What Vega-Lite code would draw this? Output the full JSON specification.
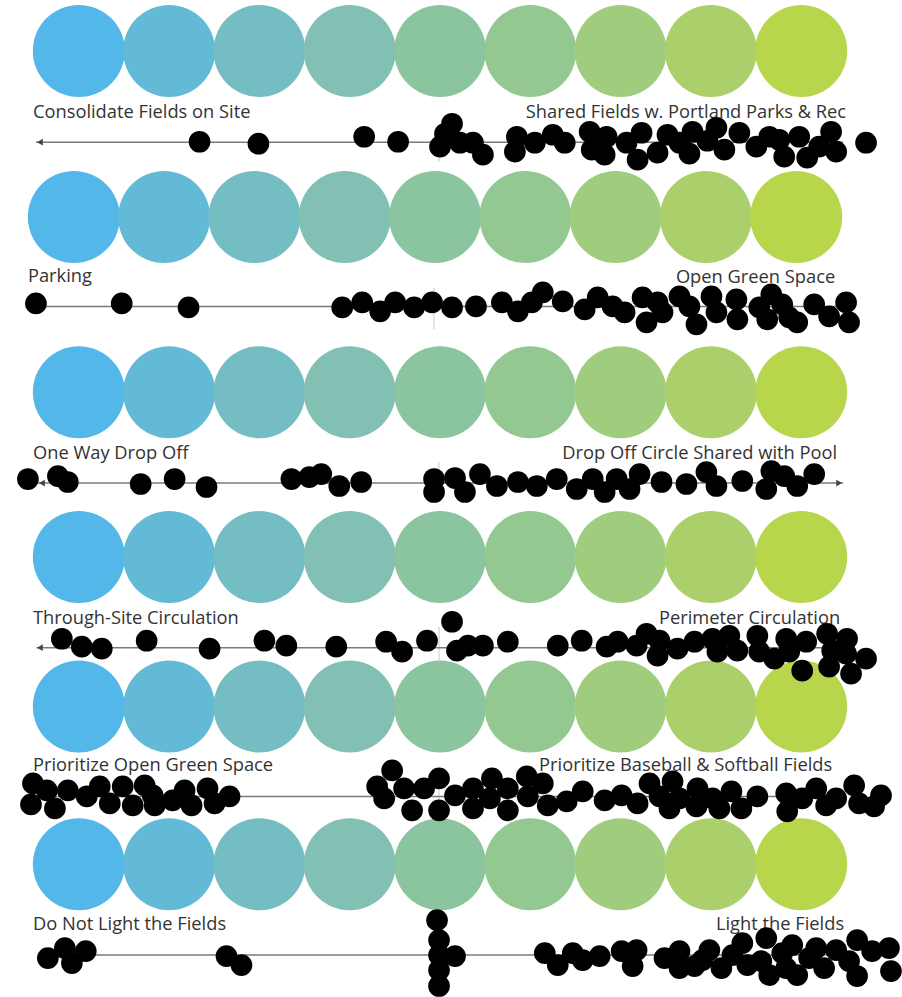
{
"$schema": "https://vega.github.io/schema/vega-lite/v6.json",
"width": 902, "height": 997,
"autosize": {"type": "fit", "contains": "padding"},
"padding": 0,
"background": "white",
"config": {"view": {"stroke": null}},
"datasets": {
"circles": [
{"q":1,"step":1,"x":1,"y":51},{"q":1,"step":2,"x":2,"y":51},{"q":1,"step":3,"x":3,"y":51},{"q":1,"step":4,"x":4,"y":51},{"q":1,"step":5,"x":5,"y":51},{"q":1,"step":6,"x":6,"y":51},{"q":1,"step":7,"x":7,"y":51},{"q":1,"step":8,"x":8,"y":51},{"q":1,"step":9,"x":9,"y":51},
{"q":2,"step":1,"x":0.945,"y":217.5},{"q":2,"step":2,"x":1.945,"y":217.5},{"q":2,"step":3,"x":2.945,"y":217.5},{"q":2,"step":4,"x":3.945,"y":217.5},{"q":2,"step":5,"x":4.945,"y":217.5},{"q":2,"step":6,"x":5.945,"y":217.5},{"q":2,"step":7,"x":6.945,"y":217.5},{"q":2,"step":8,"x":7.945,"y":217.5},{"q":2,"step":9,"x":8.945,"y":217.5},
{"q":3,"step":1,"x":1,"y":393},{"q":3,"step":2,"x":2,"y":393},{"q":3,"step":3,"x":3,"y":393},{"q":3,"step":4,"x":4,"y":393},{"q":3,"step":5,"x":5,"y":393},{"q":3,"step":6,"x":6,"y":393},{"q":3,"step":7,"x":7,"y":393},{"q":3,"step":8,"x":8,"y":393},{"q":3,"step":9,"x":9,"y":393},
{"q":4,"step":1,"x":1,"y":558},{"q":4,"step":2,"x":2,"y":558},{"q":4,"step":3,"x":3,"y":558},{"q":4,"step":4,"x":4,"y":558},{"q":4,"step":5,"x":5,"y":558},{"q":4,"step":6,"x":6,"y":558},{"q":4,"step":7,"x":7,"y":558},{"q":4,"step":8,"x":8,"y":558},{"q":4,"step":9,"x":9,"y":558},
{"q":5,"step":1,"x":1,"y":708},{"q":5,"step":2,"x":2,"y":708},{"q":5,"step":3,"x":3,"y":708},{"q":5,"step":4,"x":4,"y":708},{"q":5,"step":5,"x":5,"y":708},{"q":5,"step":6,"x":6,"y":708},{"q":5,"step":7,"x":7,"y":708},{"q":5,"step":8,"x":8,"y":708},{"q":5,"step":9,"x":9,"y":708},
{"q":6,"step":1,"x":1,"y":866},{"q":6,"step":2,"x":2,"y":866},{"q":6,"step":3,"x":3,"y":866},{"q":6,"step":4,"x":4,"y":866},{"q":6,"step":5,"x":5,"y":866},{"q":6,"step":6,"x":6,"y":866},{"q":6,"step":7,"x":7,"y":866},{"q":6,"step":8,"x":8,"y":866},{"q":6,"step":9,"x":9,"y":866}
],
"labels": [
{"q":1,"side":"left","text":"Consolidate Fields on Site","x":0.492,"y":118},
{"q":1,"side":"right","text":"Shared Fields w. Portland Parks & Rec","x":9.497,"y":118},
{"q":2,"side":"left","text":"Parking","x":0.436,"y":283},
{"q":2,"side":"right","text":"Open Green Space","x":9.376,"y":284},
{"q":3,"side":"left","text":"One Way Drop Off","x":0.492,"y":460},
{"q":3,"side":"right","text":"Drop Off Circle Shared with Pool","x":9.398,"y":460},
{"q":4,"side":"left","text":"Through-Site Circulation","x":0.492,"y":625},
{"q":4,"side":"right","text":"Perimeter Circulation","x":9.431,"y":625},
{"q":5,"side":"left","text":"Prioritize Open Green Space","x":0.492,"y":773},
{"q":5,"side":"right","text":"Prioritize Baseball & Softball Fields","x":9.343,"y":773},
{"q":6,"side":"left","text":"Do Not Light the Fields","x":0.492,"y":932},
{"q":6,"side":"right","text":"Light the Fields","x":9.475,"y":932}
],
"lines": [
{"q":1,"x1":0.525,"x2":9.464,"y":142.5},
{"q":2,"x1":0.470,"x2":9.409,"y":307},
{"q":3,"x1":0.547,"x2":9.464,"y":484},
{"q":4,"x1":0.532,"x2":9.464,"y":649},
{"q":5,"x1":0.547,"x2":9.464,"y":798},
{"q":6,"x1":0.547,"x2":9.464,"y":957}
],
"ticks": [
{"q":1,"x":4.989,"y1":128,"y2":162},
{"q":2,"x":4.934,"y1":288,"y2":330},
{"q":3,"x":4.989,"y1":463,"y2":503},
{"q":4,"x":4.989,"y1":628,"y2":664},
{"q":5,"x":4.989,"y1":784,"y2":812},
{"q":6,"x":4.989,"y1":943,"y2":971}
],
"arrows": [
{"q":1,"dir":"left","x":0.569,"y":142.5},
{"q":3,"dir":"left","x":0.591,"y":484},
{"q":3,"dir":"right","x":9.42,"y":484},
{"q":4,"dir":"left","x":0.569,"y":649}
],
"dots": [
{"q":1,"x":2.337,"y":142},{"q":1,"x":2.989,"y":144},{"q":1,"x":4.160,"y":137},{"q":1,"x":4.536,"y":142},{"q":1,"x":5.0,"y":147},{"q":1,"x":5.055,"y":134},{"q":1,"x":5.133,"y":124},{"q":1,"x":5.221,"y":143},{"q":1,"x":5.365,"y":143},{"q":1,"x":5.475,"y":155},{"q":1,"x":5.851,"y":137},{"q":1,"x":5.829,"y":152},{"q":1,"x":6.050,"y":143},{"q":1,"x":6.249,"y":135},{"q":1,"x":6.381,"y":143},{"q":1,"x":6.657,"y":132},{"q":1,"x":6.680,"y":150},{"q":1,"x":6.845,"y":137},{"q":1,"x":6.823,"y":155},{"q":1,"x":7.066,"y":143},{"q":1,"x":7.188,"y":160},{"q":1,"x":7.232,"y":133},{"q":1,"x":7.409,"y":153},{"q":1,"x":7.519,"y":135},{"q":1,"x":7.652,"y":143},{"q":1,"x":7.762,"y":154},{"q":1,"x":7.796,"y":132},{"q":1,"x":8.061,"y":128},{"q":1,"x":7.961,"y":141},{"q":1,"x":8.149,"y":150},{"q":1,"x":8.315,"y":133},{"q":1,"x":8.503,"y":147},{"q":1,"x":8.646,"y":137},{"q":1,"x":8.757,"y":140},{"q":1,"x":8.812,"y":157},{"q":1,"x":8.978,"y":137},{"q":1,"x":9.066,"y":158},{"q":1,"x":9.199,"y":147},{"q":1,"x":9.331,"y":132},{"q":1,"x":9.387,"y":152},{"q":1,"x":9.718,"y":143},
{"q":2,"x":0.525,"y":304},{"q":2,"x":1.475,"y":304},{"q":2,"x":2.215,"y":308},{"q":2,"x":3.917,"y":308},{"q":2,"x":4.138,"y":303},{"q":2,"x":4.337,"y":312},{"q":2,"x":4.503,"y":303},{"q":2,"x":4.713,"y":308},{"q":2,"x":4.912,"y":303},{"q":2,"x":5.133,"y":308},{"q":2,"x":5.398,"y":307},{"q":2,"x":5.685,"y":303},{"q":2,"x":5.862,"y":312},{"q":2,"x":6.017,"y":303},{"q":2,"x":6.138,"y":293},{"q":2,"x":6.359,"y":302},{"q":2,"x":6.602,"y":310},{"q":2,"x":6.746,"y":298},{"q":2,"x":6.912,"y":307},{"q":2,"x":7.044,"y":313},{"q":2,"x":7.243,"y":298},{"q":2,"x":7.287,"y":323},{"q":2,"x":7.409,"y":303},{"q":2,"x":7.464,"y":313},{"q":2,"x":7.652,"y":297},{"q":2,"x":7.762,"y":307},{"q":2,"x":7.840,"y":325},{"q":2,"x":8.006,"y":297},{"q":2,"x":8.061,"y":313},{"q":2,"x":8.282,"y":300},{"q":2,"x":8.293,"y":320},{"q":2,"x":8.536,"y":308},{"q":2,"x":8.669,"y":295},{"q":2,"x":8.624,"y":320},{"q":2,"x":8.790,"y":305},{"q":2,"x":8.867,"y":318},{"q":2,"x":8.956,"y":323},{"q":2,"x":9.144,"y":305},{"q":2,"x":9.309,"y":317},{"q":2,"x":9.497,"y":303},{"q":2,"x":9.530,"y":323},
{"q":3,"x":0.436,"y":480},{"q":3,"x":0.768,"y":477},{"q":3,"x":0.878,"y":483},{"q":3,"x":1.685,"y":485},{"q":3,"x":2.061,"y":480},{"q":3,"x":2.414,"y":488},{"q":3,"x":3.354,"y":480},{"q":3,"x":3.552,"y":478},{"q":3,"x":3.685,"y":475},{"q":3,"x":3.884,"y":487},{"q":3,"x":4.127,"y":483},{"q":3,"x":4.934,"y":480},{"q":3,"x":4.934,"y":493},{"q":3,"x":5.166,"y":479},{"q":3,"x":5.276,"y":493},{"q":3,"x":5.442,"y":475},{"q":3,"x":5.630,"y":487},{"q":3,"x":5.862,"y":483},{"q":3,"x":6.072,"y":487},{"q":3,"x":6.293,"y":480},{"q":3,"x":6.514,"y":490},{"q":3,"x":6.691,"y":480},{"q":3,"x":6.823,"y":493},{"q":3,"x":6.956,"y":480},{"q":3,"x":7.099,"y":490},{"q":3,"x":7.210,"y":475},{"q":3,"x":7.453,"y":483},{"q":3,"x":7.729,"y":485},{"q":3,"x":7.950,"y":473},{"q":3,"x":8.061,"y":487},{"q":3,"x":8.348,"y":482},{"q":3,"x":8.613,"y":490},{"q":3,"x":8.669,"y":472},{"q":3,"x":8.812,"y":477},{"q":3,"x":8.956,"y":487},{"q":3,"x":9.144,"y":475},
{"q":4,"x":0.812,"y":640},{"q":4,"x":1.033,"y":648},{"q":4,"x":1.254,"y":650},{"q":4,"x":1.751,"y":642},{"q":4,"x":2.448,"y":650},{"q":4,"x":3.055,"y":642},{"q":4,"x":3.298,"y":647},{"q":4,"x":3.851,"y":648},{"q":4,"x":4.403,"y":643},{"q":4,"x":4.580,"y":653},{"q":4,"x":4.856,"y":642},{"q":4,"x":5.133,"y":623},{"q":4,"x":5.188,"y":652},{"q":4,"x":5.309,"y":647},{"q":4,"x":5.475,"y":647},{"q":4,"x":5.751,"y":643},{"q":4,"x":6.304,"y":647},{"q":4,"x":6.569,"y":642},{"q":4,"x":6.845,"y":648},{"q":4,"x":6.967,"y":643},{"q":4,"x":7.177,"y":647},{"q":4,"x":7.287,"y":635},{"q":4,"x":7.409,"y":657},{"q":4,"x":7.431,"y":642},{"q":4,"x":7.630,"y":650},{"q":4,"x":7.818,"y":643},{"q":4,"x":8.017,"y":640},{"q":4,"x":8.072,"y":653},{"q":4,"x":8.204,"y":637},{"q":4,"x":8.293,"y":652},{"q":4,"x":8.514,"y":637},{"q":4,"x":8.536,"y":653},{"q":4,"x":8.702,"y":660},{"q":4,"x":8.834,"y":640},{"q":4,"x":8.867,"y":653},{"q":4,"x":9.055,"y":643},{"q":4,"x":9.011,"y":672},{"q":4,"x":9.287,"y":635},{"q":4,"x":9.309,"y":668},{"q":4,"x":9.343,"y":652},{"q":4,"x":9.508,"y":640},{"q":4,"x":9.497,"y":655},{"q":4,"x":9.552,"y":675},{"q":4,"x":9.718,"y":660},
{"q":5,"x":0.492,"y":785},{"q":5,"x":0.470,"y":806},{"q":5,"x":0.646,"y":792},{"q":5,"x":0.735,"y":810},{"q":5,"x":0.878,"y":792},{"q":5,"x":1.088,"y":798},{"q":5,"x":1.232,"y":788},{"q":5,"x":1.343,"y":805},{"q":5,"x":1.486,"y":788},{"q":5,"x":1.597,"y":807},{"q":5,"x":1.729,"y":787},{"q":5,"x":1.818,"y":797},{"q":5,"x":1.840,"y":807},{"q":5,"x":2.039,"y":802},{"q":5,"x":2.171,"y":792},{"q":5,"x":2.249,"y":807},{"q":5,"x":2.425,"y":790},{"q":5,"x":2.503,"y":805},{"q":5,"x":2.669,"y":798},
{"q":5,"x":4.470,"y":772},{"q":5,"x":4.304,"y":788},{"q":5,"x":4.381,"y":800},{"q":5,"x":4.602,"y":790},{"q":5,"x":4.691,"y":812},{"q":5,"x":4.823,"y":790},{"q":5,"x":4.989,"y":780},{"q":5,"x":4.989,"y":812},{"q":5,"x":5.166,"y":797},{"q":5,"x":5.365,"y":790},{"q":5,"x":5.365,"y":810},{"q":5,"x":5.575,"y":780},{"q":5,"x":5.552,"y":800},{"q":5,"x":5.751,"y":790},{"q":5,"x":5.751,"y":812},{"q":5,"x":5.961,"y":778},{"q":5,"x":5.972,"y":798},{"q":5,"x":6.138,"y":785},{"q":5,"x":6.193,"y":807},{"q":5,"x":6.403,"y":803},{"q":5,"x":6.580,"y":793},{"q":5,"x":6.823,"y":802},{"q":5,"x":7.011,"y":797},{"q":5,"x":7.188,"y":805},{"q":5,"x":7.320,"y":785},{"q":5,"x":7.431,"y":798},{"q":5,"x":7.541,"y":810},{"q":5,"x":7.575,"y":783},{"q":5,"x":7.652,"y":800},{"q":5,"x":7.851,"y":790},{"q":5,"x":7.840,"y":808},{"q":5,"x":8.017,"y":800},{"q":5,"x":8.094,"y":810},{"q":5,"x":8.227,"y":793},{"q":5,"x":8.337,"y":810},{"q":5,"x":8.514,"y":798},{"q":5,"x":8.834,"y":795},{"q":5,"x":8.845,"y":813},{"q":5,"x":9.011,"y":800},{"q":5,"x":9.166,"y":790},{"q":5,"x":9.276,"y":807},{"q":5,"x":9.387,"y":800},{"q":5,"x":9.586,"y":787},{"q":5,"x":9.641,"y":805},{"q":5,"x":9.807,"y":808},{"q":5,"x":9.884,"y":797},
{"q":6,"x":0.657,"y":960},{"q":6,"x":0.845,"y":950},{"q":6,"x":0.923,"y":965},{"q":6,"x":1.077,"y":953},{"q":6,"x":2.635,"y":958},{"q":6,"x":2.801,"y":967},{"q":6,"x":4.967,"y":922},{"q":6,"x":4.989,"y":942},{"q":6,"x":4.989,"y":957},{"q":6,"x":4.989,"y":972},{"q":6,"x":4.989,"y":988},{"q":6,"x":5.166,"y":958},{"q":6,"x":6.160,"y":955},{"q":6,"x":6.304,"y":967},{"q":6,"x":6.470,"y":955},{"q":6,"x":6.580,"y":962},{"q":6,"x":6.768,"y":958},{"q":6,"x":7.011,"y":953},{"q":6,"x":7.177,"y":952},{"q":6,"x":7.133,"y":968},{"q":6,"x":7.486,"y":960},{"q":6,"x":7.652,"y":953},{"q":6,"x":7.652,"y":970},{"q":6,"x":7.818,"y":968},{"q":6,"x":7.983,"y":952},{"q":6,"x":7.906,"y":962},{"q":6,"x":8.116,"y":970},{"q":6,"x":8.238,"y":957},{"q":6,"x":8.348,"y":945},{"q":6,"x":8.403,"y":967},{"q":6,"x":8.558,"y":963},{"q":6,"x":8.613,"y":940},{"q":6,"x":8.646,"y":977},{"q":6,"x":8.790,"y":955},{"q":6,"x":8.901,"y":947},{"q":6,"x":8.834,"y":970},{"q":6,"x":8.956,"y":977},{"q":6,"x":9.088,"y":960},{"q":6,"x":9.166,"y":950},{"q":6,"x":9.254,"y":970},{"q":6,"x":9.387,"y":952},{"q":6,"x":9.530,"y":963},{"q":6,"x":9.619,"y":942},{"q":6,"x":9.619,"y":978},{"q":6,"x":9.785,"y":953},{"q":6,"x":9.972,"y":950},{"q":6,"x":9.994,"y":973}
]
},
"encoding": {
"x": {"type": "quantitative", "scale": {"domain": [0.127, 10.094], "nice": false, "zero": false}, "axis": null},
"y": {"type": "quantitative", "scale": {"domain": [0, 997], "reverse": true, "nice": false, "zero": false}, "axis": null}
},
"layer": [
{"data": {"name": "circles"}, "mark": {"type": "circle", "size": 8464, "opacity": 1},
 "encoding": {"x": {"field": "x", "type": "quantitative"}, "y": {"field": "y", "type": "quantitative"},
  "color": {"field": "step", "type": "ordinal", "legend": null, "scale": {"domain": [1,2,3,4,5,6,7,8,9], "range": ["#53b7e9","#63bad6","#73bdc3","#81c0b3","#8bc59f","#93c891","#a0cc7e","#aacf6b","#b8d64b"]}}}},
{"data": {"name": "ticks"}, "mark": {"type": "rule", "color": "#c8c8c8", "strokeWidth": 1},
 "encoding": {"x": {"field": "x", "type": "quantitative"}, "y": {"field": "y1", "type": "quantitative"}, "y2": {"field": "y2"}}},
{"data": {"name": "lines"}, "mark": {"type": "rule", "color": "#7a7a7a", "strokeWidth": 1.5},
 "encoding": {"x": {"field": "x1", "type": "quantitative"}, "x2": {"field": "x2"}, "y": {"field": "y", "type": "quantitative"}}},
{"data": {"name": "arrows"}, "mark": {"type": "point", "filled": true, "color": "#444", "size": 45, "opacity": 1},
 "encoding": {"x": {"field": "x", "type": "quantitative"}, "y": {"field": "y", "type": "quantitative"},
  "shape": {"field": "dir", "type": "nominal", "legend": null, "scale": {"domain": ["left","right"], "range": ["triangle-left","triangle-right"]}}}},
{"data": {"name": "labels"}, "transform": [{"filter": "datum.side === 'left'"}],
 "mark": {"type": "text", "align": "left", "baseline": "alphabetic", "font": "Open Sans", "fontSize": 18.3, "color": "#333333"},
 "encoding": {"x": {"field": "x", "type": "quantitative"}, "y": {"field": "y", "type": "quantitative"}, "text": {"field": "text"}}},
{"data": {"name": "labels"}, "transform": [{"filter": "datum.side === 'right'"}],
 "mark": {"type": "text", "align": "right", "baseline": "alphabetic", "font": "Open Sans", "fontSize": 18.3, "color": "#333333"},
 "encoding": {"x": {"field": "x", "type": "quantitative"}, "y": {"field": "y", "type": "quantitative"}, "text": {"field": "text"}}},
{"data": {"name": "dots"}, "mark": {"type": "circle", "size": 470, "color": "#000000", "opacity": 1},
 "encoding": {"x": {"field": "x", "type": "quantitative"}, "y": {"field": "y", "type": "quantitative"}}}
]
}
